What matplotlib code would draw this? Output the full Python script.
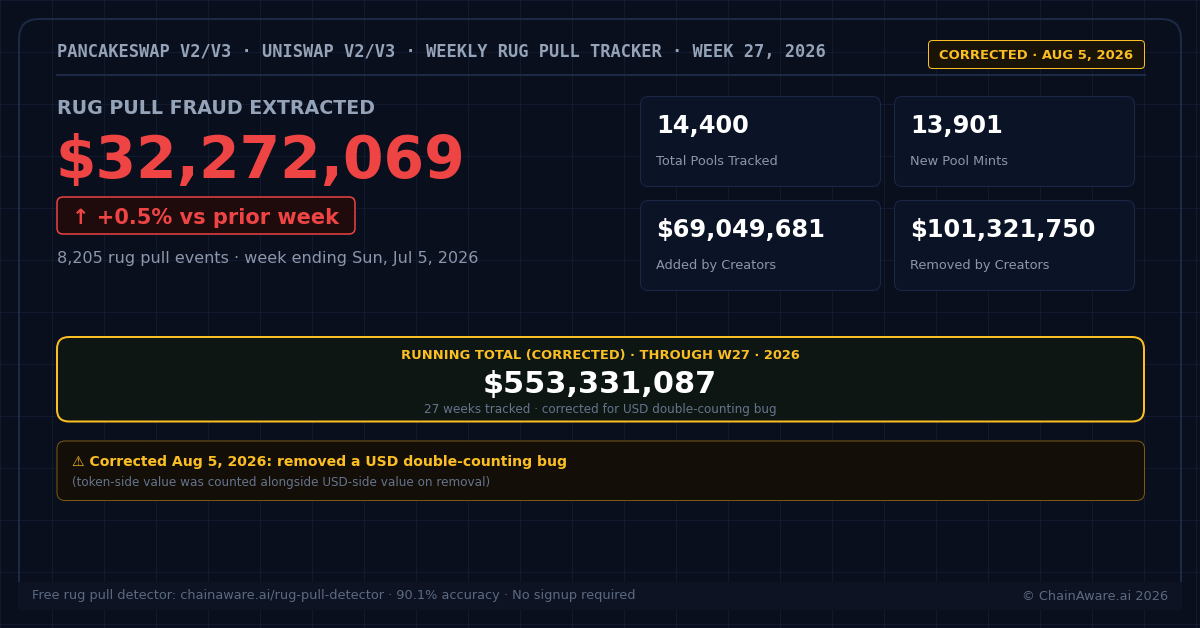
import matplotlib
matplotlib.use("Agg")
import matplotlib.pyplot as plt
from matplotlib.patches import FancyBboxPatch, Rectangle

# ---- data ----
header_text = "PANCAKESWAP V2/V3 · UNISWAP V2/V3 · WEEKLY RUG PULL TRACKER · WEEK 27, 2026"
badge_text = "CORRECTED · AUG 5, 2026"
hero_label = "RUG PULL FRAUD EXTRACTED"
hero_value = 32272069
change_pct = 0.5
events = 8205
week_ending = "Sun, Jul 5, 2026"
stat_values = ["14,400", "13,901", "$69,049,681", "$101,321,750"]
stat_labels = ["Total Pools Tracked", "New Pool Mints", "Added by Creators", "Removed by Creators"]
running_title = "RUNNING TOTAL (CORRECTED) · THROUGH W27 · 2026"
running_total = 553331087
weeks_tracked = 27
running_sub = "weeks tracked · corrected for USD double-counting bug"
warn_title = "⚠ Corrected Aug 5, 2026: removed a USD double-counting bug"
warn_sub = "(token-side value was counted alongside USD-side value on removal)"
footer_left = "Free rug pull detector: chainaware.ai/rug-pull-detector · 90.1% accuracy · No signup required"
footer_right = "© ChainAware.ai 2026"

BG = "#0a0f1e"
GRID = "#111a2e"
PT = 0.72  # px -> pt at dpi 100

fig = plt.figure(figsize=(12, 6.28), dpi=100, facecolor=BG)
ax = fig.add_axes([0, 0, 1, 1])
ax.set_xlim(0, 1200)
ax.set_ylim(628, 0)
ax.axis("off")
ax.set_facecolor(BG)

# background grid
for gx in range(0, 1201, 52):
    ax.plot([gx, gx], [0, 628], color=GRID, lw=1 * PT, zorder=0)
for gy in range(0, 629, 52):
    ax.plot([0, 1200], [gy, gy], color=GRID, lw=1 * PT, zorder=0)


def rbox(x0, y0, x1, y1, r, fc, ec, lw, z=1):
    p = FancyBboxPatch((x0, y0), x1 - x0, y1 - y0,
                       boxstyle=f"round,pad=0,rounding_size={r}",
                       fc=fc, ec=ec, lw=lw * PT, zorder=z)
    ax.add_patch(p)


def txt(x, y, s, px, color, weight="normal", ha="left", family="DejaVu Sans", z=5):
    ax.text(x, y, s, fontsize=px * PT, color=color, fontweight=weight, ha=ha,
            va="baseline", family=family, zorder=z)


# outer card (bottom edge hidden under the footer bar)
rbox(19, 19, 1181, 607, 20, "none", "#1c2a48", 2, z=1)

# header
txt(57, 57, header_text, 17.0, "#94a3b8", weight="bold", family="DejaVu Sans Mono")
ax.plot([57, 1145], [75, 75], color="#1c2a48", lw=2 * PT, zorder=2)

# corrected badge
rbox(928.5, 40.5, 1144.5, 68.5, 4, "#1a1408", "#fbbf24", 1, z=3)
txt(1036.5, 59, badge_text, 13.1, "#fbbf24", weight="bold", ha="center")

# hero
txt(57, 114, hero_label, 19.0, "#94a3b8", weight="bold")
txt(56, 178, f"${hero_value:,}", 58.3, "#ef4444", weight="bold")
rbox(57, 197, 355, 234, 6, "#1f0b0c", "#ef4444", 1.5, z=3)
txt(72.5, 224, f"↑ +{change_pct}% vs prior week", 20.9, "#ef4444", weight="bold")
txt(57, 263, f"{events:,} rug pull events · week ending {week_ending}", 16.0, "#8b97ab")

# stat cards
card_x = [640.5, 894.5]
card_y = [96.5, 200.5]
cw, ch = 240, 90
for i, (v, lab) in enumerate(zip(stat_values, stat_labels)):
    cx = card_x[i % 2]
    cy = card_y[i // 2]
    rbox(cx, cy, cx + cw, cy + ch, 8, "#0b1427", "#1a2746", 1, z=3)
    txt(cx + 16, cy + 36.5, v, 24, "#ffffff", weight="bold")
    txt(cx + 16, cy + 68.5, lab, 12.9, "#8b97ab")

# running total box
rbox(57, 337, 1144, 421.5, 12, "#0d1613", "#fbbf24", 2, z=3)
txt(600, 359, running_title, 13.0, "#fbbf24", weight="bold", ha="center")
txt(600, 393, f"${running_total:,}", 30.3, "#ffffff", weight="bold", ha="center")
txt(600, 413, f"{weeks_tracked} {running_sub}", 12.0, "#64748b", ha="center")

# warning box
rbox(57, 441, 1144.5, 500.5, 8, "#140e08", "#7a5a12", 1, z=3)
txt(72.5, 466, warn_title, 14.0, "#fbbf24", weight="bold")
txt(72.5, 486, warn_sub, 12.0, "#64748b")

# footer
ax.add_patch(Rectangle((18, 582), 1164, 28, fc="#0d1322", ec="none", zorder=4))
txt(32, 599.5, footer_left, 12.95, "#5b6a82")
txt(1168, 599.5, footer_right, 12.95, "#5b6a82", ha="right")

fig.savefig("out.png", dpi=100, facecolor=BG)
